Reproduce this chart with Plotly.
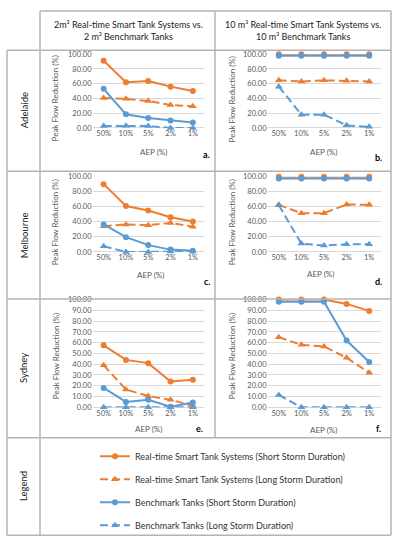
import plotly.graph_objects as go

W, H = 398, 550
FONT = "Lato"
ORANGE = "#ED7D31"
BLUE = "#5B9BD5"

aep_labels = ["50%", "10%", "5%", "2%", "1%"]

series_names = [
    "Real-time Smart Tank Systems (Short Storm Duration)",
    "Real-time Smart Tank Systems (Long Storm Duration)",
    "Benchmark Tanks (Short Storm Duration)",
    "Benchmark Tanks (Long Storm Duration)",
]

# Adelaide
adl_2m_rt_short = [91, 62, 63.5, 56, 50]
adl_2m_rt_long = [40.5, 39.5, 36.5, 31, 29.5]
adl_2m_bm_short = [53, 18.5, 13.5, 10, 7.5]
adl_2m_bm_long = [2.5, 3, 2.5, 0, 0]
adl_10m_rt_short = [100, 100, 100, 100, 100]
adl_10m_rt_long = [64.5, 63, 64.5, 64, 63]
adl_10m_bm_short = [98, 98, 98, 98, 98]
adl_10m_bm_long = [56, 18, 18, 3.5, 1.5]
# Melbourne
mel_2m_rt_short = [90, 61, 55, 46, 40.5]
mel_2m_rt_long = [34, 36.5, 35.5, 38.5, 33.5]
mel_2m_bm_short = [36.5, 19.5, 9, 3, 1.5]
mel_2m_bm_long = [7.5, 0, 0, 0.5, 0.5]
mel_10m_rt_short = [100, 100, 100, 100, 100]
mel_10m_rt_long = [62.5, 51.5, 51.5, 63, 62.5]
mel_10m_bm_short = [97.5, 97.5, 97.5, 97.5, 97.5]
mel_10m_bm_long = [62, 11, 8.5, 10, 10]
# Sydney
syd_2m_rt_short = [57.5, 44, 41, 24, 25.5]
syd_2m_rt_long = [39, 16.5, 10.5, 7, 1.5]
syd_2m_bm_short = [18, 5, 7, 0.5, 4.5]
syd_2m_bm_long = [0, 0, 0, 0, 0]
syd_10m_rt_short = [100, 100, 100, 96, 89.5]
syd_10m_rt_long = [65, 58, 56.5, 46, 32]
syd_10m_bm_short = [98, 98, 98, 62, 42]
syd_10m_bm_long = [11.5, 0, 0, 0, 0]

col_headers = ["2m³ Real-time Smart Tank Systems vs.<br>2 m³ Benchmark Tanks",
               "10 m³ Real-time Smart Tank Systems vs.<br>10 m³ Benchmark Tanks"]
row_labels = ["Adelaide", "Melbourne", "Sydney", "Legend"]
panel_letters = ["a.", "b.", "c.", "d.", "e.", "f."]
y_title = "Peak Flow Reduction (%)"
x_title = "AEP (%)"


def X(px):
    return px / W


def Y(py):
    return 1 - py / H


panels = [
    dict(data=[adl_2m_rt_short, adl_2m_rt_long, adl_2m_bm_short, adl_2m_bm_long],
         x=(92.5, 204), y=(126, 51), dtick=20, letter=(206, 153), xt=(153, 150), yt=(55, 96)),
    dict(data=[adl_10m_rt_short, adl_10m_rt_long, adl_10m_bm_short, adl_10m_bm_long],
         x=(267.5, 380.5), y=(126, 51), dtick=20, letter=(378, 156), xt=(323, 150), yt=(232, 97)),
    dict(data=[mel_2m_rt_short, mel_2m_rt_long, mel_2m_bm_short, mel_2m_bm_long],
         x=(92.5, 204), y=(252, 175.5), dtick=20, letter=(207, 282), xt=(150, 275), yt=(55, 222)),
    dict(data=[mel_10m_rt_short, mel_10m_rt_long, mel_10m_bm_short, mel_10m_bm_long],
         x=(267.5, 380.5), y=(252, 175.5), dtick=20, letter=(378, 282), xt=(320, 274), yt=(232, 222)),
    dict(data=[syd_2m_rt_short, syd_2m_rt_long, syd_2m_bm_short, syd_2m_bm_long],
         x=(92.5, 204), y=(410, 300.5), dtick=10, letter=(199, 432), xt=(148, 432), yt=(56, 358)),
    dict(data=[syd_10m_rt_short, syd_10m_rt_long, syd_10m_bm_short, syd_10m_bm_long],
         x=(267.5, 380.5), y=(410, 300.5), dtick=10, letter=(378, 432), xt=(323, 433), yt=(232, 358)),
]

styles = [
    dict(color=ORANGE, dash="solid", symbol="circle", size=6),
    dict(color=ORANGE, dash="8px,4px", symbol="triangle-up", size=7),
    dict(color=BLUE, dash="solid", symbol="circle", size=6),
    dict(color=BLUE, dash="8px,4px", symbol="triangle-up", size=7),
]

fig = go.Figure()
layout = dict(
    width=W, height=H, autosize=False,
    margin=dict(l=0, r=0, t=0, b=0),
    paper_bgcolor="white", plot_bgcolor="white",
    font=dict(family=FONT, size=9, color="#000000"),
    showlegend=True,
    legend=dict(x=X(95), y=Y(445), xanchor="left", yanchor="top",
                font=dict(family=FONT, size=9, color="#333333"),
                tracegroupgap=4, bgcolor="rgba(0,0,0,0)", traceorder="grouped"),
)

annotations = []


def ann(text, px, py, size, color, angle=0):
    return dict(text=text, x=X(px), y=Y(py), xref="paper", yref="paper", showarrow=False,
                xanchor="center", yanchor="middle", textangle=angle, align="center",
                font=dict(family=FONT, size=size, color=color))


for i, p in enumerate(panels):
    sfx = "" if i == 0 else str(i + 1)
    for s, (vals, st) in enumerate(zip(p["data"], styles)):
        fig.add_trace(go.Scatter(
            x=aep_labels, y=vals, mode="lines+markers",
            name=series_names[s], legendgroup=series_names[s], showlegend=(i == 0),
            line=dict(color=st["color"], width=2, dash=st["dash"]),
            marker=dict(color=st["color"], symbol=st["symbol"], size=st["size"]),
            cliponaxis=False,
            xaxis="x" + sfx, yaxis="y" + sfx,
        ))
    layout["xaxis" + sfx] = dict(
        domain=[X(p["x"][0]), X(p["x"][1])], anchor="y" + sfx,
        type="category", range=[-0.5, 4.5], showgrid=False, showline=False,
        zeroline=False, ticks="", tickfont=dict(size=7.5, color="#595959", family=FONT),
    )
    layout["yaxis" + sfx] = dict(
        domain=[Y(p["y"][0]), Y(p["y"][1])], anchor="x" + sfx,
        range=[0, 100], dtick=p["dtick"], tickformat=".2f",
        showgrid=True, gridcolor="#D9D9D9", gridwidth=1,
        zeroline=True, zerolinecolor="#D9D9D9", zerolinewidth=1,
        showline=False, ticks="", tickfont=dict(size=7.5, color="#595959", family=FONT),
    )
    annotations.append(ann(x_title, p["xt"][0], p["xt"][1], 8, "#595959"))
    annotations.append(ann(y_title, p["yt"][0], p["yt"][1], 8, "#595959", -90))
    annotations.append(ann("<b>" + panel_letters[i] + "</b>", p["letter"][0], p["letter"][1], 9, "#000000"))

for txt, cx in zip(col_headers, [128, 303]):
    annotations.append(ann(txt, cx, 27, 9, "#222222"))
for txt, cy in zip(row_labels, [108, 235, 370, 490]):
    annotations.append(ann(txt, 24, cy, 9.5, "#222222", -90))
layout["annotations"] = annotations

LC = "#B4B4B4"
segs = [
    (40, 7, 391, 7), (7, 47, 391, 47), (7, 170, 391, 170), (7, 300, 391, 300),
    (7, 441, 391, 441), (7, 540, 391, 540),
    (7, 47, 7, 540), (40, 7, 40, 540), (215, 7, 215, 441), (391, 7, 391, 540),
]
layout["shapes"] = [dict(type="line", xref="paper", yref="paper", x0=X(a), y0=Y(b), x1=X(c), y1=Y(d),
                         line=dict(color=LC, width=1.5)) for a, b, c, d in segs]

fig.update_layout(**layout)
fig.write_html("out.html", config={"displayModeBar": False},
               post_script="document.body.style.margin='0';")
